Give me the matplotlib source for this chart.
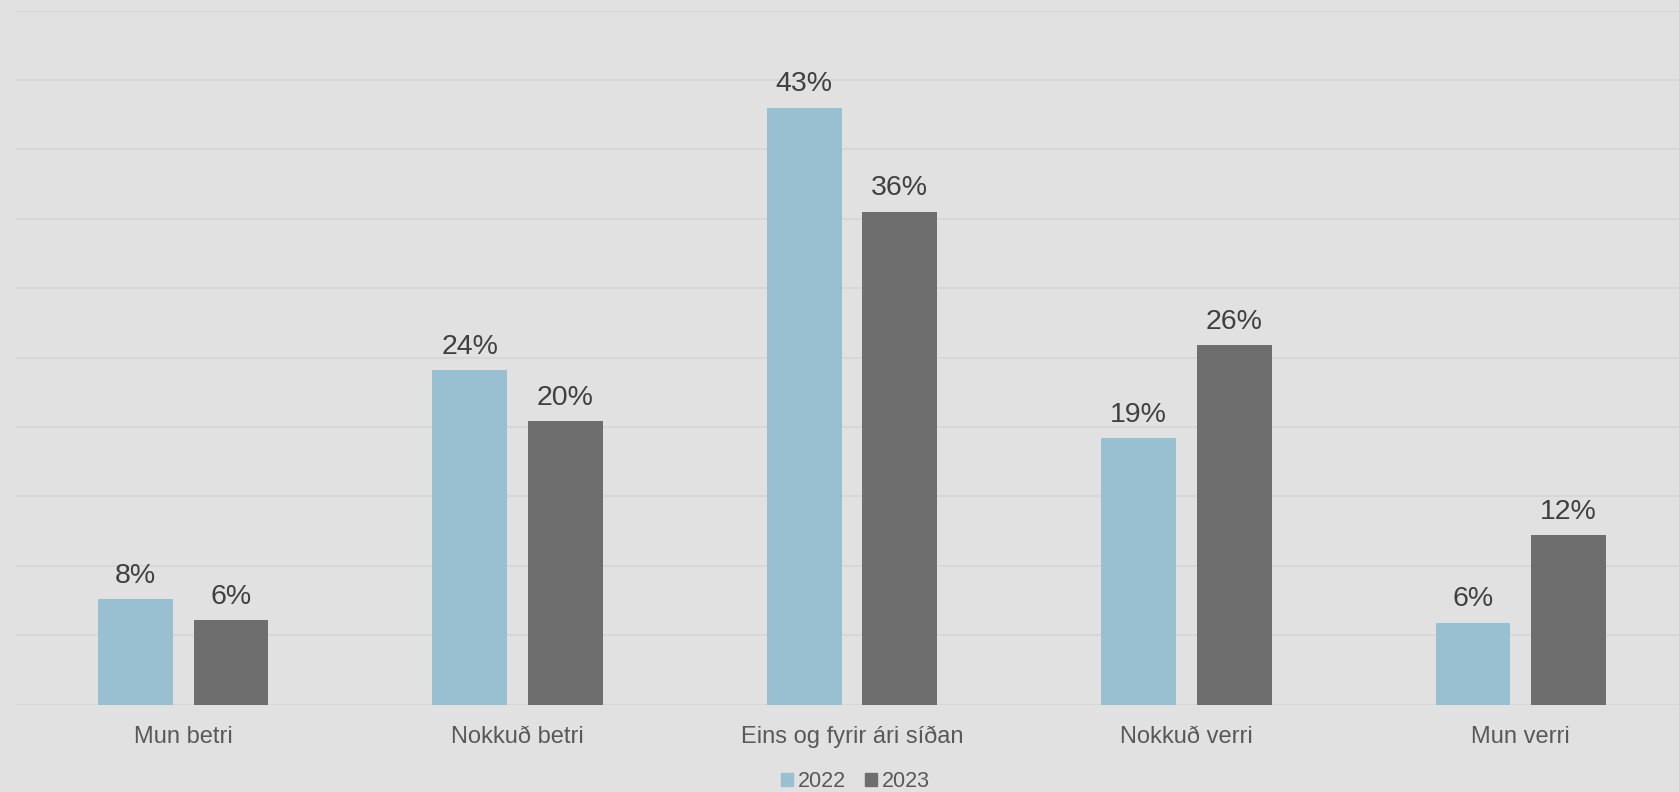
import matplotlib.pyplot as plt
from matplotlib.patches import Patch
import numpy as np

plt.rcParams['font.family'] = ['Liberation Sans', 'DejaVu Sans']

categories = ["Mun betri", "Nokkuð betri", "Eins og fyrir ári síðan", "Nokkuð verri", "Mun verri"]
vals_2022 = [7.6, 24.1, 43.0, 19.2, 5.9]
vals_2023 = [6.1, 20.4, 35.5, 25.9, 12.2]
series_names = ["2022", "2023"]

c2022 = "#98c0d0"
c2023 = "#6e6e6e"
bg = "#e1e1e1"

W, H = 1679, 792
fig = plt.figure(figsize=(W / 100, H / 100), dpi=100, facecolor=bg)
ax = fig.add_axes([16 / W, (H - 704.7) / H, (W - 16) / W, (704.7 - 10.5) / H])
ax.set_facecolor(bg)

x = np.arange(len(categories))
bw = 0.224
off = 0.143
b1 = ax.bar(x - off, vals_2022, bw, color=c2022, zorder=3)
b2 = ax.bar(x + off, vals_2023, bw, color=c2023, zorder=3)

# data labels above bars
for bars, vals in [(b1, vals_2022), (b2, vals_2023)]:
    for rect, v in zip(bars, vals):
        ax.annotate(f"{round(v)}%", (rect.get_x() + rect.get_width() / 2, v),
                    xytext=(0, 7.5), textcoords="offset points",
                    ha="center", va="bottom", fontsize=20.5, color="#404040")

ax.set_ylim(0, 50)
ax.set_xlim(-0.5, 4.473)
ax.set_yticks(np.arange(0, 51, 5))
ax.yaxis.grid(True, color="#d6d6d6", linewidth=1.3, zorder=0)
ax.tick_params(axis="y", left=False, labelleft=False)
ax.tick_params(axis="x", bottom=False, labelsize=17, labelcolor="#595959", pad=11.5)
ax.set_xticks(x)
ax.set_xticklabels(categories)
for s in ax.spines.values():
    s.set_visible(False)

handles = [Patch(color=c2022), Patch(color=c2023)]
fig.legend(handles, series_names, loc="center", bbox_to_anchor=(855.5 / W, (H - 781.5) / H),
           ncol=2, frameon=False, fontsize=15.5, labelcolor="#595959",
           handlelength=0.55, handleheight=0.55, handletextpad=0.25, columnspacing=0.85,
           borderpad=0, borderaxespad=0)

fig.savefig("out.png", dpi=100, facecolor=bg)
